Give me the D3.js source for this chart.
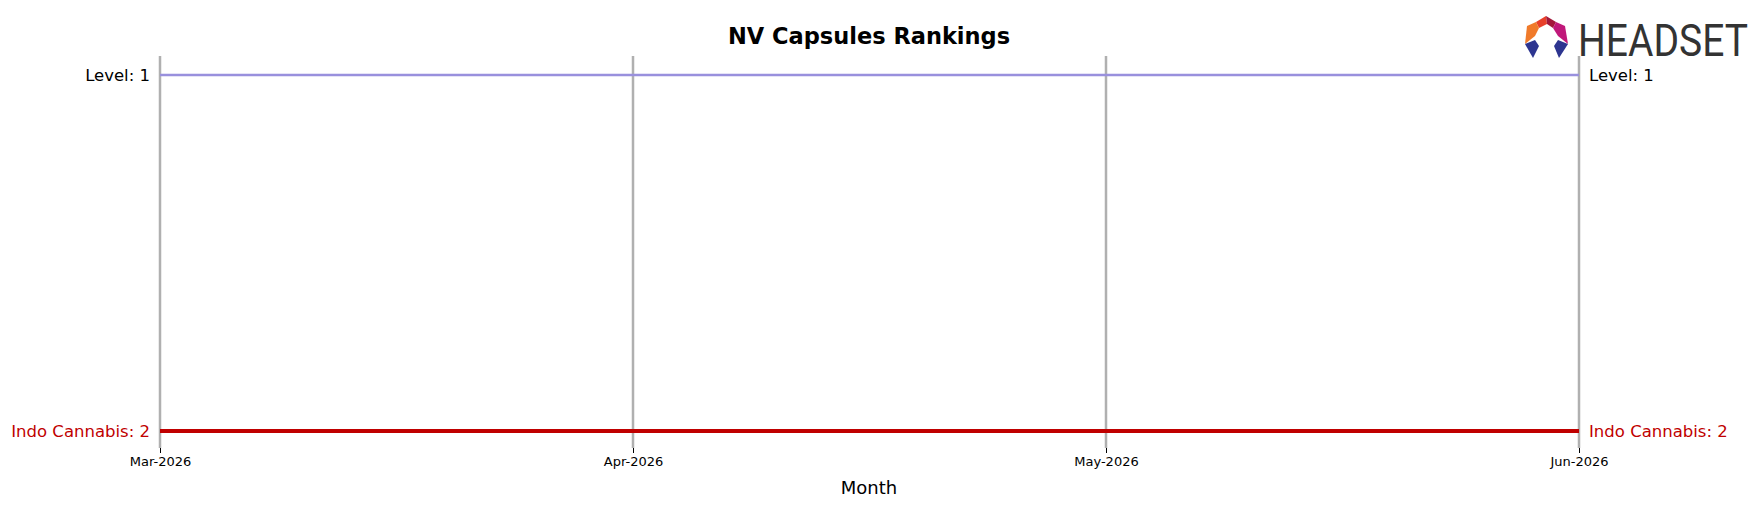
<!DOCTYPE html>
<html><head><meta charset="utf-8">
<script src="https://cdn.jsdelivr.net/npm/d3@7"></script>
<style>body{margin:0;background:#fff}text{font-family:"DejaVu Sans",sans-serif}</style>
</head><body><svg id="c" width="1762" height="507"></svg>
<script>
const months = ["Mar-2026","Apr-2026","May-2026","Jun-2026"];
const brands = ["Level","Indo Cannabis"];
const levelRanks = [1,1,1,1];
const indoRanks = [2,2,2,2];
const colors = ["#9990dd","#c00000"];
const widths = [2.5,4];

const svg = d3.select("#c");
const x = d3.scalePoint().domain(months).range([160,1579]);
const y = d3.scaleLinear().domain([1,2]).range([75,431]);

svg.append("text").attr("x",869).attr("y",44).attr("text-anchor","middle")
  .attr("font-size",22.5).attr("font-weight","bold").text("NV Capsules Rankings");

svg.selectAll(".g").data(months).enter().append("line")
  .attr("x1",d=>x(d)).attr("x2",d=>x(d)).attr("y1",56).attr("y2",448)
  .attr("stroke","#b0b0b0").attr("stroke-width",2.5);

const ax = svg.append("g").attr("transform","translate(0,448)")
  .call(d3.axisBottom(x).tickSize(5).tickPadding(4));
ax.select(".domain").remove();
ax.selectAll("text").attr("font-size",13).attr("fill","#000").style("font-family","DejaVu Sans");

svg.append("text").attr("x",869).attr("y",494).attr("text-anchor","middle")
  .attr("font-size",18).text("Month");

const series = [levelRanks, indoRanks];
const line = d3.line().x((d,i)=>x(months[i])).y(d=>y(d));
series.forEach((s,k)=>{
  svg.append("path").attr("d",line(s)).attr("fill","none")
    .attr("stroke",colors[k]).attr("stroke-width",widths[k]);
  svg.append("text").attr("x",x(months[0])-10).attr("y",y(s[0])+6).attr("text-anchor","end")
    .attr("font-size",16.5).attr("fill",k?colors[k]:"#000").text(brands[k]+": "+s[0]);
  svg.append("text").attr("x",x(months[3])+10).attr("y",y(s[3])+6)
    .attr("font-size",16.5).attr("fill",k?colors[k]:"#000").text(brands[k]+": "+s[3]);
});

// logo
const lg = svg.append("g");
const polys = [
 [[[1536,22],[1546,16],[1547,24],[1539,28]],"#e8402a"],
 [[[1546,16],[1556,22],[1553,28],[1547,24]],"#a3173a"],
 [[[1527,26],[1536,22],[1539,28],[1535,36],[1525,44]],"#f07a2a"],
 [[[1556,22],[1565,26],[1568,44],[1558,36],[1553,28]],"#c0187a"],
 [[[1525,44],[1535,40],[1539,46],[1533,58]],"#2d3590"],
 [[[1568,44],[1558,40],[1554,46],[1559,58]],"#2d3590"]
];
polys.forEach(([p,c])=>lg.append("polygon").attr("points",p.map(q=>q.join(",")).join(" ")).attr("fill",c));
lg.append("text").attr("x",1578).attr("y",56).attr("font-size",45).attr("fill","#333")
  .attr("textLength",170).attr("lengthAdjust","spacingAndGlyphs")
  .style("font-family","Liberation Sans Narrow, Roboto, sans-serif").text("HEADSET");
</script></body></html>
